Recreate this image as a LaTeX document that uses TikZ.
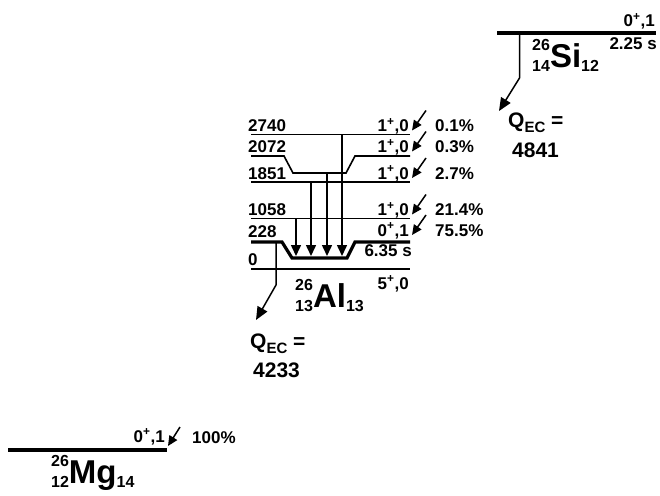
\documentclass[tikz,border=0pt]{standalone}
\usepackage{fontspec}
\setmainfont{Liberation Sans}
\usetikzlibrary{arrows.meta}

\newcommand{\nuclide}[4]{%
  {\fontsize{16}{16}\selectfont\rlap{\raisebox{17pt}{#1}}\raisebox{-4pt}{#2}}%
  {\fontsize{33}{33}\selectfont #3}%
  {\fontsize{16}{16}\selectfont\raisebox{-4pt}{#4}}}
\newcommand{\qec}{Q{\fontsize{15}{15}\selectfont\raisebox{-5pt}{EC}} =}

\begin{document}
\begin{tikzpicture}[x=1pt,y=-1pt]

\def\xl{251}
\def\xr{410}
\def\dip{256}

\tikzset{lvl/.style = {line width=1.6pt},
         gs/.style = {line width=3.2pt},
         txt/.style = {inner sep=0pt, font=\fontsize{17}{17}\selectfont\bfseries},
         big/.style = {inner sep=0pt, font=\fontsize{21}{21}\selectfont\bfseries},
         gam/.style = {line width=1.5pt, -{Triangle[length=11pt,width=10pt]}},
         feed/.style = {line width=1.5pt, -{Triangle[length=10pt,width=9pt]}},
         ec/.style = {line width=1.5pt, -{Triangle[length=13pt,width=11pt]}}}

\useasboundingbox (0,0) rectangle (660,495);

% 26Si
\draw[gs] (497,33) -- (656,33);
\path (655,26.5) node[txt,anchor=base east] (JSi) {0\textsuperscript{+},1};
\path (657,49) node[txt,anchor=base east] (TSi) {2.25 s};
\path (532,67) node[txt,anchor=base west] (Si) {\nuclide{26}{14}{Si}{12}};
\coordinate (S0) at (519.5,33);
\coordinate (S1) at (519.5,78);
\coordinate (S2) at (499,111);
\draw[ec] (S0) -- (S1) -- (S2);
\path (508,127.5) node[big,anchor=base west] (QSi) {\qec};
\path (512,157) node[big,anchor=base west] (VSi) {4841};

% levels of 26Al
\draw[lvl] (\xl,134.5) -- (\xr,134.5);
\draw[lvl] (\xl,156) -- (284,156) -- (293,173) -- (346,173) -- (355,156) -- (\xr,156);
\draw[lvl] (\xl,182) -- (\xr,182);
\draw[lvl] (\xl,218.5) -- (\xr,218.5);
\draw[gs] (\xl,242) -- (282,242) -- (292,258) -- (347,258) -- (355,242) -- (\xr,242);
\draw[lvl] (\xl,269) -- (\xr,269);

\foreach \e/\b/\pc in {2740/131.5/0.1, 2072/152.5/0.3, 1851/179/2.7, 1058/215.5/21.4}{
  \path (\xl-3,\b) node[txt,anchor=base west] (E\e) {\e};
  \path (409,\b) node[txt,anchor=base east] (J\e) {1\textsuperscript{+},0};
  \path (435,\b) node[txt,anchor=base west] (P\e) {\pc\%};
  \coordinate (F\e) at (426,\b-21);
  \coordinate (T\e) at (412,\b-1);
  \draw[feed] (F\e) -- (T\e);
}

\path (248,237) node[txt,anchor=base west] (E228) {228};
\path (409,236) node[txt,anchor=base east] (J228) {0\textsuperscript{+},1};
\path (435,236) node[txt,anchor=base west] (P228) {75.5\%};
\coordinate (F228) at (426,215);
\coordinate (T228) at (412,235);
\draw[feed] (F228) -- (T228);
\path (412,256.5) node[txt,anchor=base east] (T228b) {6.35 s};

\path (248,265) node[txt,anchor=base west] (E0) {0};
\path (409,289) node[txt,anchor=base east] (J0) {5\textsuperscript{+},0};
\path (295,307) node[txt,anchor=base west] (Al) {\nuclide{26}{13}{Al}{13}};

% gamma rays
\foreach \n/\x/\y in {a/296/218.5, b/311/182, c/327/173, d/342/134.5}{
  \coordinate (G\n) at (\x,\y);
  \coordinate (H\n) at (\x,\dip);
  \draw[gam] (G\n) -- (H\n);
}

% EC of 26Al
\coordinate (A0) at (276,242);
\coordinate (A1) at (276,285);
\coordinate (A2) at (256,320);
\draw[ec] (A0) -- (A1) -- (A2);
\path (250,348) node[big,anchor=base west] (QAl) {\qec};
\path (253,377) node[big,anchor=base west] (VAl) {4233};

% 26Mg
\draw[gs] (8,450) -- (167,450);
\path (165,442) node[txt,anchor=base east] (JMg) {0\textsuperscript{+},1};
\coordinate (FMg) at (180,427);
\coordinate (TMg) at (168,446);
\draw[feed] (FMg) -- (TMg);
\path (192,443) node[txt,anchor=base west] (PMg) {100\%};
\path (51,483) node[txt,anchor=base west] (Mg) {\nuclide{26}{12}{Mg}{14}};

\end{tikzpicture}
\end{document}
